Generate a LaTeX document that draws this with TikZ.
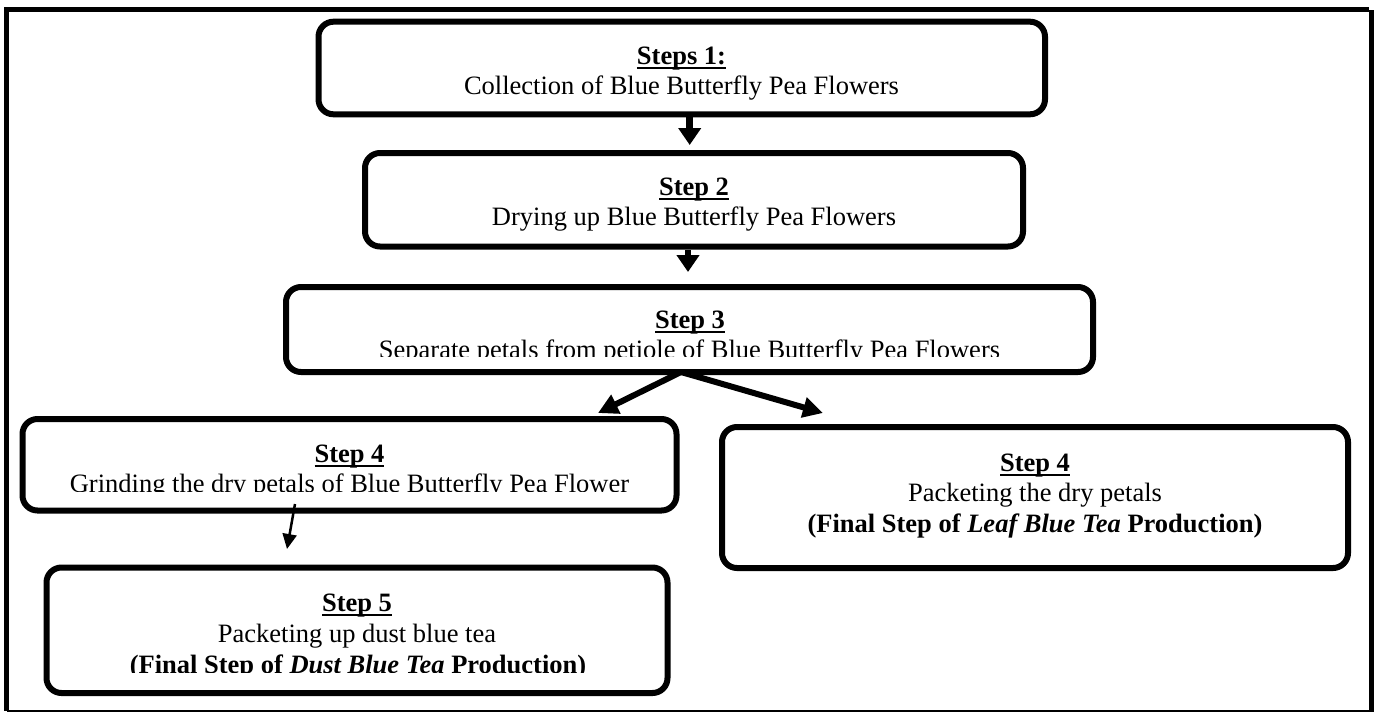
\documentclass[tikz,border=0pt]{standalone}
\usepackage{fontspec}
\setmainfont{Liberation Serif}
\usetikzlibrary{arrows.meta}
\newcommand\myul[1]{\leavevmode\setbox0=\hbox{#1}\rlap{\rule[-5pt]{\wd0}{2pt}}\box0}
\begin{document}
\begin{tikzpicture}[x=1pt,y=-1pt,
  stepbox/.style={draw, line width=6pt, rounded corners=15pt, inner sep=0pt, rectangle},
  txt/.style={font=\fontsize{26.5}{30.5}\selectfont, inner sep=0pt, anchor=base},
  bigarrow/.style={line width=6.5pt, -{Triangle[length=17pt,width=22pt]}},
  diagarrow/.style={line width=6pt, -{Triangle[length=20pt,width=20pt]}},
  thinarrow/.style={line width=2.5pt, -{Triangle[length=15pt,width=14pt]}},
  frameline/.style={line width=5pt}]
\useasboundingbox (0,0) rectangle (1376,713);
% outer frame
\draw[frameline] (4,9) -- (1369,9);
\draw[line width=4.5pt] (1371.5,10) -- (1371.5,712);
\draw[frameline] (6.5,7) -- (6.5,711);
\draw[line width=2pt] (6.5,710.5) -- (1371.5,710.5);
% boxes
\node[stepbox, minimum width=726.5pt, minimum height=92.6pt] (b1) at (681.75,68) {};
\node[stepbox, minimum width=658pt, minimum height=93.5pt] (b2) at (694,199.75) {};
\node[stepbox, minimum width=807pt, minimum height=85pt] (b3) at (689.5,329.5) {};
\node[stepbox, minimum width=654pt, minimum height=91.5pt] (b4l) at (349.5,464.75) {};
\node[stepbox, minimum width=626pt, minimum height=141pt] (b4r) at (1035,497.5) {};
\node[stepbox, minimum width=621pt, minimum height=125.5pt] (b5) at (357,630.25) {};
% texts
\node[txt] (t1a) at (681.5,64) {\myul{\textbf{Steps 1:}}};
\node[txt] (t1b) at (681.5,94.3) {Collection of Blue Butterfly Pea Flowers};
\node[txt] (t2a) at (694,195) {\myul{\textbf{Step 2}}};
\node[txt] (t2b) at (694,225) {Drying up Blue Butterfly Pea Flowers};
\node[txt] (t3a) at (690,328) {\myul{\textbf{Step 3}}};
\begin{scope}
\clip (0,0) rectangle (1376,356);
\node[txt] (t3b) at (689.5,358.5) {Separate petals from petiole of Blue Butterfly Pea Flowers};
\end{scope}
\node[txt] (t4la) at (349.5,462) {\myul{\textbf{Step 4}}};
\begin{scope}
\clip (0,0) rectangle (1376,491);
\node[txt] (t4lb) at (349.5,492.5) {Grinding the dry petals of Blue Butterfly Pea Flower};
\end{scope}
\node[txt] (t4ra) at (1035,471) {\myul{\textbf{Step 4}}};
\node[txt] (t4rb) at (1035,501.7) {Packeting the dry petals};
\node[txt] (t4rc) at (1035,532) {\textbf{(Final Step of \textit{Leaf Blue Tea} Production)}};
\node[txt] (t5a) at (357,611) {\myul{\textbf{Step 5}}};
\node[txt] (t5b) at (357,642) {Packeting up dust blue tea};
\begin{scope}
\clip (0,0) rectangle (1376,672.5);
\node[txt] (t5c) at (358,673) {\textbf{(Final Step of \textit{Dust Blue Tea} Production)}};
\end{scope}
% connectors
\coordinate (x1) at (689.7,0);
\coordinate (x2) at (688,0);
\draw[bigarrow, shorten >=5pt] (x1 |- b1.south) -- (x1 |- b2.north);
\draw[bigarrow, shorten >=12pt] (x2 |- b2.south) -- (x2 |- b3.north);
\coordinate (split) at (681,372);
\coordinate (tipl) at (598,413);
\coordinate (tipr) at (823,413);
\draw[diagarrow] (split) -- (tipl);
\draw[diagarrow] (split) -- (tipr);
\coordinate (g1) at (295,504);
\coordinate (g2) at (287,549);
\draw[thinarrow] (g1) -- (g2);
\end{tikzpicture}
\end{document}
